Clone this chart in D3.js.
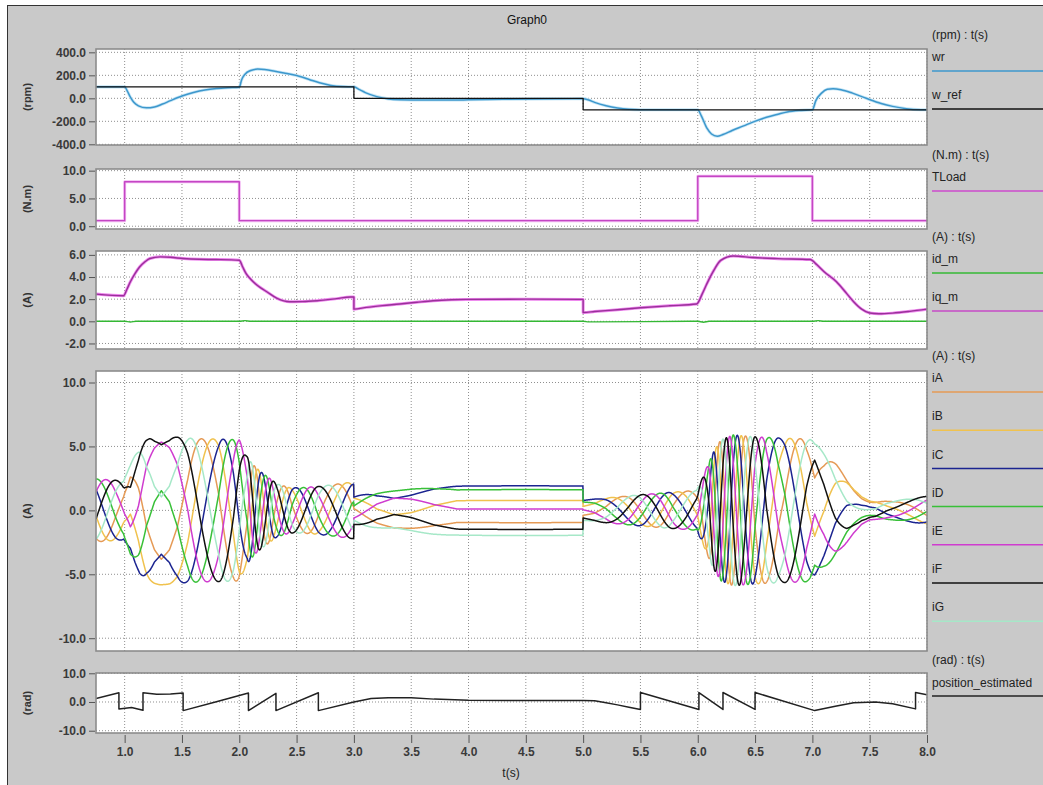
<!DOCTYPE html>
<html>
<head>
<meta charset="utf-8">
<script src="https://cdn.jsdelivr.net/npm/d3@7"></script>
<style>
  body { margin: 0; background: #fff; }
  text { font-family: "Liberation Sans", Arial, sans-serif; }
</style>
</head>
<body>
<svg id="chart" width="1043" height="785"></svg>
<script>
// ---- data ----
const xTicks = [1.0, 1.5, 2.0, 2.5, 3.0, 3.5, 4.0, 4.5, 5.0, 5.5, 6.0, 6.5, 7.0, 7.5, 8.0];

// speed (rpm)
const wrT = [0.75, 1.0, 1.02, 1.05, 1.08, 1.12, 1.19, 1.26, 1.33, 1.4, 1.5, 1.6, 1.7, 1.8, 1.9, 2.0,
  2.02, 2.05, 2.1, 2.16, 2.22, 2.3, 2.4, 2.53, 2.62, 2.7, 2.8, 2.9, 3.0, 3.05, 3.1, 3.2, 3.3, 3.4,
  3.6, 3.8, 4.0, 4.3, 4.6, 5.0, 5.05, 5.1, 5.2, 5.3, 5.4, 5.5, 6.0, 6.03, 6.08, 6.12, 6.17, 6.22,
  6.3, 6.4, 6.48, 6.6, 6.7, 6.78, 6.9, 7.0, 7.03, 7.08, 7.13, 7.18, 7.25, 7.35, 7.47, 7.6, 7.7,
  7.82, 7.95, 8.0];
const wrV = [100, 100, 70, 10, -35, -65, -83, -75, -50, -20, 20, 50, 72, 85, 92, 96,
  160, 210, 242, 254, 250, 238, 218, 190, 160, 135, 112, 102, 100, 75, 50, 15, -5, -12,
  -15, -15, -13, -8, -5, -3, -15, -35, -65, -85, -96, -100, -100, -150, -260, -310, -330, -315,
  -280, -240, -207, -165, -138, -118, -105, -100, -20, 45, 78, 84, 75, 45, 0, -45, -70,
  -90, -99, -100];
const wrefT = [0.75, 3.0, 3.0, 5.0, 5.0, 8.0];
const wrefV = [100, 100, 0, 0, -100, -100];

// load torque (N.m)
const tloadT = [0.75, 1.0, 1.0, 2.0, 2.0, 6.0, 6.0, 7.0, 7.0, 8.0];
const tloadV = [1.0, 1.0, 8.0, 8.0, 1.0, 1.0, 9.0, 9.0, 1.0, 1.0];

// dq currents (A)
const iqT = [0.75, 0.99, 1.02, 1.05, 1.09, 1.13, 1.18, 1.22, 1.31, 1.4, 1.51, 1.65, 1.8, 2.0,
  2.03, 2.06, 2.1, 2.14, 2.19, 2.24, 2.33, 2.44, 2.55, 2.68, 2.85, 2.97, 3.0, 3.0, 3.11, 3.25,
  3.4, 3.55, 3.69, 3.85, 3.98, 4.5, 5.0, 5.0, 5.1, 5.3, 5.5, 5.75, 5.99, 6.04, 6.08, 6.14, 6.2,
  6.31, 6.48, 6.7, 6.98, 7.04, 7.1, 7.21, 7.3, 7.36, 7.43, 7.5, 7.58, 7.7, 7.85, 8.0];
const iqV = [2.46, 2.31, 2.9, 3.57, 4.3, 4.9, 5.4, 5.67, 5.82, 5.78, 5.67, 5.6, 5.58, 5.52,
  4.9, 4.3, 3.8, 3.4, 3.0, 2.67, 2.07, 1.77, 1.78, 1.86, 2.05, 2.2, 2.2, 1.1, 1.26, 1.42,
  1.56, 1.72, 1.86, 1.95, 1.98, 2.0, 1.98, 0.8, 0.88, 1.05, 1.22, 1.4, 1.56, 2.5, 3.4, 4.6, 5.5,
  5.9, 5.76, 5.66, 5.58, 5.1, 4.5, 3.57, 2.5, 1.77, 1.1, 0.75, 0.68, 0.74, 0.9, 1.1];
const idT = [0.75, 1.0, 1.05, 1.1, 2.0, 2.05, 2.1, 5.0, 5.05, 6.0, 6.05, 6.1, 7.0, 7.05, 7.1, 8.0];
const idV = [0.0, 0.0, -0.06, 0.0, 0.0, 0.06, 0.0, 0.0, -0.05, 0.0, -0.08, 0.0, 0.0, 0.06, 0.0, 0.0];

// electrical angle of the phase currents (turns), read from the iF peaks / troughs
const angleT = [0.75, 0.92, 1.0, 1.05, 1.12, 1.19, 1.26, 1.32, 1.39, 1.46, 1.55, 1.65, 1.74, 1.82,
  1.95, 2.07, 2.18, 2.3, 2.46, 2.69, 2.98, 3.1, 3.2, 3.35, 3.5, 3.7, 3.9, 5.0, 5.1, 5.2, 5.3,
  5.4, 5.52, 5.65, 5.78, 5.9, 6.0, 6.1, 6.2, 6.3, 6.4, 6.5, 6.6, 6.7, 6.76, 6.85, 6.95, 7.02,
  7.1, 7.2, 7.3, 7.4, 7.47, 7.55, 7.65, 7.75, 7.85, 7.97, 8.0];
const angleV = [0.42, 0.714, 0.84, 0.88, 0.81, 0.714, 0.66, 0.636, 0.66, 0.714, 0.82, 0.97, 1.1, 1.214,
  1.45, 1.714, 2.214, 2.714, 3.214, 3.714, 4.214, 4.31, 4.38, 4.43, 4.41, 4.36, 4.33, 4.33, 4.29, 4.2, 4.07,
  3.92, 3.714, 3.47, 3.214, 3.02, 2.85, 2.48, 1.95, 1.47, 1.06, 0.714, 0.47, 0.29, 0.214, 0.07, -0.09, -0.17,
  -0.11, -0.01, 0.06, 0.09, 0.1, 0.08, -0.03, -0.1, -0.18, -0.286, -0.31];
const phaseNames = ["iA", "iB", "iC", "iD", "iE", "iF", "iG"];
const phaseColors = ["#e59a55", "#f0c24e", "#1b2490", "#38c038", "#cf3ccf", "#111111", "#a6e8c8"];

// estimated position (rad)
const posT = [0.75, 0.95, 0.95, 1.06, 1.16, 1.16, 1.28, 1.4, 1.51, 1.51, 1.8, 2.08, 2.08, 2.32, 2.32,
  2.69, 2.69, 3.0, 3.15, 3.3, 3.5, 3.7, 4.0, 4.5, 5.0, 5.1, 5.2, 5.3, 5.4, 5.5, 5.5, 6.01, 6.01,
  6.22, 6.22, 6.5, 6.5, 7.02, 7.2, 7.36, 7.55, 7.7, 7.9, 7.9, 8.0];
const posV = [1.25, 3.2, -2.4, -1.9, -2.9, 3.2, 2.7, 2.8, 3.1, -3.0, 0.1, 3.1, -3.0, 3.0, -3.0,
  3.2, -3.0, 0.0, 1.2, 1.5, 1.5, 1.0, 0.6, 0.5, 0.5, 0.4, -0.3, -1.0, -1.8, -2.6, 3.3, -2.6, 3.3,
  -2.6, 3.3, -2.6, 3.3, -3.0, -1.5, -0.3, 0.0, -0.6, -2.4, 3.3, 2.5];

// ---- layout ----
const svg = d3.select("#chart");
const x = d3.scaleLinear().domain([0.75, 8.0]).range([96, 927]);

svg.append("rect").attr("x", 7.5).attr("y", 5.5).attr("width", 1050).attr("height", 800)
  .attr("fill", "#c9c9c9").attr("stroke", "#333");

svg.append("text").attr("x", 527).attr("y", 24).attr("text-anchor", "middle")
  .style("font-size", "12px").attr("fill", "#111").text("Graph0");

const panels = [
  { top: 49, bottom: 145, domain: [-406, 429], ticks: [-400, -200, 0, 200, 400], label: "(rpm)" },
  { top: 169, bottom: 229, domain: [-0.5, 10.3], ticks: [0, 5, 10], label: "(N.m)" },
  { top: 251, bottom: 349, domain: [-2.5, 6.35], ticks: [-2, 0, 2, 4, 6], label: "(A)" },
  { top: 371, bottom: 651, domain: [-11.0, 10.9], ticks: [-10, -5, 0, 5, 10], label: "(A)" },
  { top: 673, bottom: 733, domain: [-10.8, 10.1], ticks: [-10, 0, 10], label: "(rad)" }
];

function lerpAt(ts, vs, t) {
  const i = d3.bisectRight(ts, t);
  if (i <= 0) return vs[0];
  if (i >= ts.length) return vs[vs.length - 1];
  const t0 = ts[i - 1], t1 = ts[i];
  if (t1 === t0) return vs[i];
  return vs[i - 1] + (vs[i] - vs[i - 1]) * (t - t0) / (t1 - t0);
}

panels.forEach((p, idx) => {
  p.y = d3.scaleLinear().domain(p.domain).range([p.bottom, p.top]);
  const g = svg.append("g");
  g.append("rect").attr("x", 96).attr("y", p.top).attr("width", 831).attr("height", p.bottom - p.top)
    .attr("fill", "#fff");

  // grid
  g.selectAll(".vgrid").data(xTicks).join("line")
    .attr("x1", d => x(d)).attr("x2", d => x(d)).attr("y1", p.top).attr("y2", p.bottom)
    .attr("stroke", "#8f8f8f").attr("stroke-dasharray", "1,2");
  g.selectAll(".hgrid").data(p.ticks).join("line")
    .attr("x1", 96).attr("x2", 927).attr("y1", d => p.y(d)).attr("y2", d => p.y(d))
    .attr("stroke", "#8f8f8f").attr("stroke-dasharray", "1,2");

  // y axis
  const ax = g.append("g").attr("transform", "translate(95,0)")
    .call(d3.axisLeft(p.y).tickValues(p.ticks).tickFormat(d => d.toFixed(1)).tickSize(6));
  ax.select(".domain").remove();
  ax.selectAll("line").attr("stroke", "#555");
  ax.selectAll("text").style("font-size", "12px").style("font-weight", "bold").attr("fill", "#3a3a3a");

  g.append("text")
    .attr("transform", `translate(27,${(p.top + p.bottom) / 2}) rotate(-90)`)
    .attr("text-anchor", "middle").attr("dy", "0.35em").style("font-size", "11px").style("font-weight", "bold")
    .attr("fill", "#333").text(p.label);

  g.append("clipPath").attr("id", "clip" + idx).append("rect")
    .attr("x", 96).attr("y", p.top).attr("width", 831).attr("height", p.bottom - p.top);
  p.plot = svg.append("g").attr("clip-path", `url(#clip${idx})`);
});

function drawSeries(p, ts, vs, color, width, halo, curve) {
  const line = d3.line().x(d => x(d[0])).y(d => p.y(d[1])).curve(curve || d3.curveLinear);
  const pts = d3.zip(ts, vs);
  if (halo) {
    p.plot.append("path").attr("d", line(pts)).attr("fill", "none")
      .attr("stroke", halo).attr("stroke-width", width + 1.6).attr("stroke-linejoin", "round");
  }
  p.plot.append("path").attr("d", line(pts)).attr("fill", "none")
    .attr("stroke", color).attr("stroke-width", width).attr("stroke-linejoin", "round");
}

// panel 1: speed
drawSeries(panels[0], wrT, wrV, "#3d97cc", 1.5, "#c6e6f6", d3.curveMonotoneX);
drawSeries(panels[0], wrefT, wrefV, "#111", 1.3);

// panel 2: torque
drawSeries(panels[1], tloadT, tloadV, "#c446c4", 1.4, "#f2b8f2");

// panel 3: dq currents
drawSeries(panels[2], idT, idV, "#34b834", 1.4, null, d3.curveMonotoneX);
drawSeries(panels[2], iqT, iqV, "#9a309a", 1.4, "#ee88ee", d3.curveMonotoneX);

// panel 4: seven phase currents from iq amplitude and electrical angle
const sampleT = d3.range(0.75, 8.0005, 0.002);
const order = [0, 1, 2, 3, 4, 6, 5];
order.forEach(k => {
  const vals = sampleT.map(t => lerpAt(iqT, iqV, t) *
    Math.cos(2 * Math.PI * (lerpAt(angleT, angleV, t) - k / 7)));
  drawSeries(panels[3], sampleT, vals, phaseColors[k], 1.5);
});

// panel 5: position
drawSeries(panels[4], posT, posV, "#222", 1.5);

// x axis under the last panel
const xa = svg.append("g").attr("transform", "translate(0,735)")
  .call(d3.axisBottom(x).tickValues(xTicks).tickFormat(d => d.toFixed(1)).tickSize(8));
xa.select(".domain").remove();
xa.selectAll("line").attr("stroke", "#555");
xa.selectAll("text").style("font-size", "12px").style("font-weight", "bold").attr("fill", "#3a3a3a")
  .attr("dy", "0.85em");
svg.append("text").attr("x", 511).attr("y", 777).attr("text-anchor", "middle")
  .style("font-size", "12px").attr("fill", "#222").text("t(s)");

// borders on top
panels.forEach(p => {
  svg.append("rect").attr("x", 96).attr("y", p.top).attr("width", 831).attr("height", p.bottom - p.top)
    .attr("fill", "none").attr("stroke", "#8c8c8c").attr("stroke-width", 1.6);
});

// legends
const legendHeaders = [
  { y: 35, text: "(rpm) : t(s)" }, { y: 155, text: "(N.m) : t(s)" }, { y: 237, text: "(A) : t(s)" },
  { y: 356, text: "(A) : t(s)" }, { y: 660, text: "(rad) : t(s)" }
];
const legendItems = [
  { name: "wr", y: 57, ly: 71, color: "#3d97cc" },
  { name: "w_ref", y: 95, ly: 109, color: "#111" },
  { name: "TLoad", y: 177, ly: 191, color: "#cc4acc" },
  { name: "id_m", y: 259, ly: 273, color: "#34b834" },
  { name: "iq_m", y: 297, ly: 311, color: "#c64ac6" },
  { name: "position_estimated", y: 683, ly: 696, color: "#222" }
];
phaseNames.forEach((n, k) => {
  legendItems.push({ name: n, y: 378 + k * 38.2, ly: 392 + k * 38.2, color: phaseColors[k] });
});
legendHeaders.forEach(h => {
  svg.append("text").attr("x", 932).attr("y", h.y).attr("dy", "0.35em")
    .style("font-size", "12px").attr("fill", "#222").text(h.text);
});
legendItems.forEach(it => {
  svg.append("text").attr("x", 932).attr("y", it.y).attr("dy", "0.35em")
    .style("font-size", "12px").attr("fill", "#222").text(it.name);
  svg.append("line").attr("x1", 932).attr("x2", 1043).attr("y1", it.ly).attr("y2", it.ly)
    .attr("stroke", it.color).attr("stroke-width", 1.5);
});
</script>
</body>
</html>
